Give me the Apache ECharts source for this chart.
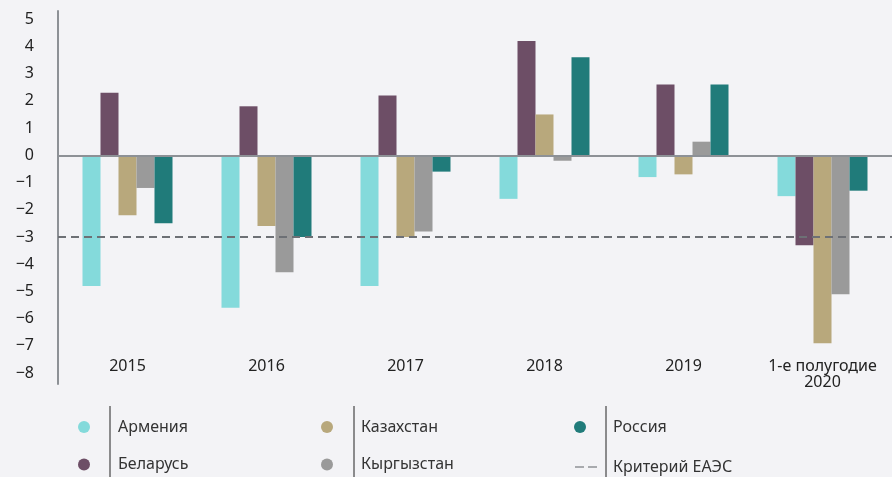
<!DOCTYPE html>
<html>
<head>
<meta charset="utf-8">
<script src="https://cdn.jsdelivr.net/npm/echarts@6/dist/echarts.min.js"></script>
<style>
  html, body { margin: 0; padding: 0; background: #f3f3f6; }
  #chart { width: 892px; height: 477px; }
</style>
</head>
<body>
<div id="chart"></div>
<script>
// categories and values
const categories = ['2015', '2016', '2017', '2018', '2019', '1-е полугодие\n2020']
const armenia = [-4.8, -5.6, -4.8, -1.6, -0.8, -1.5]
const belarus = [2.3, 1.8, 2.2, 4.2, 2.6, -3.3]
const kazakhstan = [-2.2, -2.6, -3.0, 1.5, -0.7, -6.9]
const kyrgyzstan = [-1.2, -4.3, -2.8, -0.2, 0.5, -5.1]
const russia = [-2.5, -3.0, -0.6, 3.6, 2.6, -1.3]
const criterion = -3
const yTicks = [5, 4, 3, 2, 1, 0, -1, -2, -3, -4, -5, -6, -7, -8]

const colors = {
  armenia: '#84dadb',
  belarus: '#6d4e66',
  kazakhstan: '#b8a87c',
  kyrgyzstan: '#9a9a9a',
  russia: '#207b7a'
}

const font = 'Noto Sans'
const chart = echarts.init(document.getElementById('chart'))

const bar = (name, data, color) => ({
  name: name,
  type: 'bar',
  data: data,
  barWidth: 18,
  barGap: '0%',
  itemStyle: { color: color }
})

const legendText = (pad) => ({
  fontFamily: font,
  fontSize: 16,
  lineHeight: 20,
  color: '#333',
  padding: [0, 0, 0, pad]
})

// legend columns: two rows each
const legendCol = (left, names, pad) => ({
  orient: 'vertical', left: left, top: 417, padding: 0, itemGap: 17.5,
  itemWidth: 12, itemHeight: 12, icon: 'circle',
  textStyle: legendText(pad),
  data: names
})

const option = {
  backgroundColor: '#f3f3f6',
  animation: false,
  grid: { left: 58, right: -18, top: 11, bottom: 93 },
  xAxis: {
    type: 'category',
    data: categories,
    offset: -26,
    axisLine: { show: false },
    axisTick: { show: false },
    axisLabel: {
      interval: 0,
      margin: 0,
      fontFamily: font,
      fontSize: 16,
      lineHeight: 16,
      color: '#222'
    }
  },
  yAxis: {
    type: 'value',
    min: -8.4,
    max: 5.3,
    splitLine: { show: false },
    axisTick: { show: false },
    axisLine: { show: true, lineStyle: { color: '#8d9196', width: 2 } },
    axisLabel: {
      customValues: yTicks,
      margin: 24,
      fontFamily: font,
      fontSize: 16,
      color: '#222',
      formatter: v => (v < 0 ? '\u2212' + Math.abs(v) : String(v))
    }
  },
  legend: [
    legendCol(78, ['Армения', 'Беларусь'], 23),
    legendCol(321, ['Казахстан', 'Кыргызстан'], 23),
    legendCol(574, ['Россия'], 22),
    {
      orient: 'vertical', left: 575, top: 457, padding: 0,
      itemWidth: 22, itemHeight: 4,
      textStyle: legendText(11),
      data: [{
        name: 'Критерий ЕАЭС',
        icon: 'path://M0,0h9v1h-9zM13,0h9v1h-9z',
        itemStyle: { color: '#5f6267', opacity: 1, borderWidth: 0 },
        lineStyle: { width: 0 }
      }]
    }
  ],
  graphic: [110, 354, 606].map(x => ({
    type: 'line',
    silent: true,
    shape: { x1: x, y1: 406, x2: x, y2: 477 },
    style: { stroke: '#222', lineWidth: 1 }
  })),
  series: [
    bar('Армения', armenia, colors.armenia),
    bar('Беларусь', belarus, colors.belarus),
    bar('Казахстан', kazakhstan, colors.kazakhstan),
    bar('Кыргызстан', kyrgyzstan, colors.kyrgyzstan),
    bar('Россия', russia, colors.russia),
    {
      name: 'Критерий ЕАЭС',
      type: 'line',
      data: [],
      symbol: 'none',
      itemStyle: { color: '#5f6267' },
      lineStyle: { type: [8, 5], width: 3, color: '#5f6267' },
      markLine: {
        silent: true,
        symbol: 'none',
        label: { show: false },
        data: [
          { yAxis: 0, lineStyle: { type: 'solid', color: '#8d9196', width: 2 } },
          { yAxis: criterion, lineStyle: { type: [8, 5], color: '#6d7075', width: 2 } }
        ]
      }
    }
  ]
}

chart.setOption(option)
</script>
</body>
</html>
